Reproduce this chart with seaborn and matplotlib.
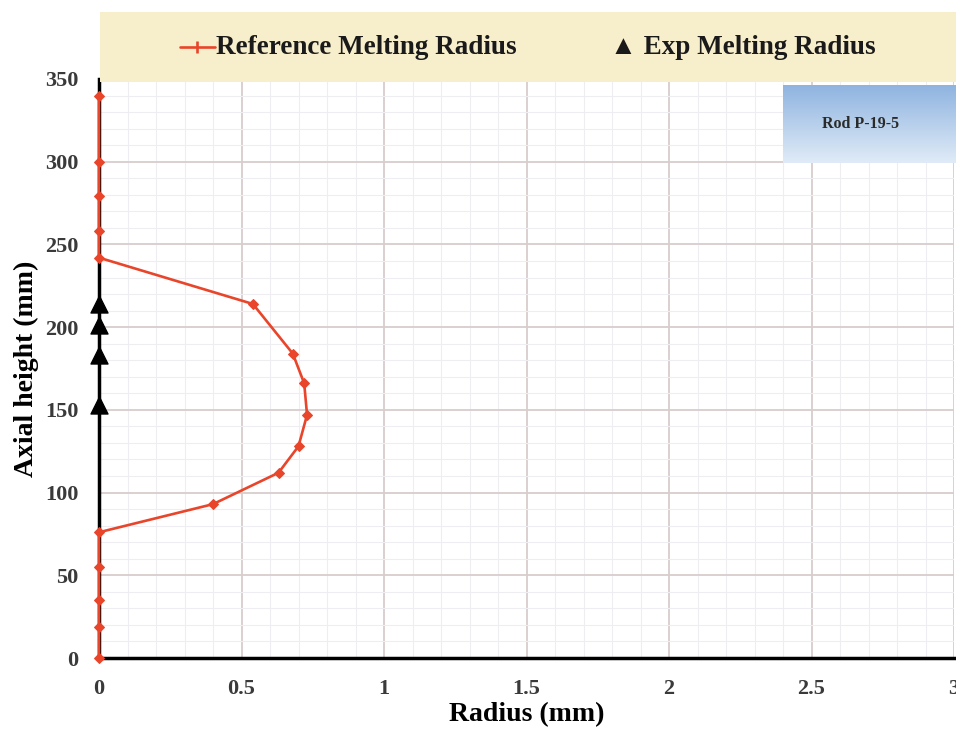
import numpy as np
import pandas as pd
import matplotlib
matplotlib.use("Agg")
import matplotlib.pyplot as plt
from matplotlib.ticker import MultipleLocator
from matplotlib.colors import LinearSegmentedColormap
import seaborn as sns

# ---- data ----
ref_radius = [0, 0, 0, 0, 0, 0.40, 0.63, 0.70, 0.73, 0.72, 0.68, 0.54, 0, 0, 0, 0, 0]
ref_height = [0, 19, 35, 55, 76, 93, 112, 128, 147, 166, 184, 214, 242, 258, 279, 300, 340]
exp_radius = [0, 0, 0, 0]
exp_height = [153, 183, 201, 214]
x_ticks = [0, 0.5, 1, 1.5, 2, 2.5, 3]
x_tick_labels = ["0", "0.5", "1", "1.5", "2", "2.5", "3"]
y_ticks = [0, 50, 100, 150, 200, 250, 300, 350]

ref_df = pd.DataFrame({"Radius": ref_radius, "Height": ref_height})
exp_df = pd.DataFrame({"Radius": exp_radius, "Height": exp_height})

sns.set_theme(style="white")
plt.rcParams["font.family"] = ["Liberation Serif", "DejaVu Serif"]

W, H = 956, 737
fig = plt.figure(figsize=(W / 100, H / 100), dpi=100)
ax = fig.add_axes([99 / W, 1 - 658 / H, (954 - 99) / W, (658 - 79) / H])

# legend band
fig.patches.append(plt.Rectangle((100 / W, 1 - 82 / H), (W - 100) / W, 70 / H,
                                 transform=fig.transFigure, facecolor="#f7eecb",
                                 edgecolor="none", zorder=0))

red = "#e8452b"
sns.lineplot(data=ref_df, x="Radius", y="Height", sort=False, ax=ax, color=red,
             linewidth=1.9, marker="D", markersize=5, markeredgecolor=red,
             zorder=4, clip_on=False, estimator=None)
sns.scatterplot(data=exp_df, x="Radius", y="Height", ax=ax, color="black",
                marker="^", s=150, edgecolor="black", zorder=5, clip_on=False)

ax.set_xlim(0, 3)
ax.set_ylim(0, 350)
ax.set_xticks(x_ticks)
ax.set_xticklabels(x_tick_labels)
ax.set_yticks(y_ticks)
ax.xaxis.set_minor_locator(MultipleLocator(0.1))
ax.yaxis.set_minor_locator(MultipleLocator(10))
ax.grid(True, which="major", color="#d8cdcd", linewidth=1.3)
ax.grid(True, which="minor", color="#eeedf2", linewidth=0.8)
ax.set_axisbelow(True)
ax.tick_params(which="minor", length=0)
ax.tick_params(which="major", length=6, width=1.6, color="black", pad=9,
               labelsize=16, labelcolor="#3a3a3a", direction="out")
for lab in ax.get_xticklabels() + ax.get_yticklabels():
    lab.set_fontweight("bold")
for side in ["top", "right"]:
    ax.spines[side].set_visible(False)
for side in ["left", "bottom"]:
    ax.spines[side].set_color("black")
    ax.spines[side].set_linewidth(2.5)
    ax.spines[side].set_zorder(3)

ax.set_xlabel("Radius (mm)", fontsize=20, fontweight="bold", color="black", labelpad=2)
ax.set_ylabel("Axial height (mm)", fontsize=20, fontweight="bold", color="black", labelpad=4)

# Rod label box with gradient
grad = np.linspace(0, 1, 100).reshape(-1, 1)
cmap = LinearSegmentedColormap.from_list("g", ["#8fb4e0", "#e0ebf7"])
ax_box = fig.add_axes([783 / W, 1 - 163 / H, (W - 783) / W, (163 - 85) / H])
ax_box.imshow(grad, aspect="auto", cmap=cmap, extent=[0, 1, 0, 1], origin="upper")
ax_box.set_axis_off()
ax_box.text(0.45, 0.5, "Rod P-19-5", ha="center", va="center", fontsize=11.5,
            fontweight="bold", color="#2a2a2a", transform=ax_box.transAxes)

# legend text
ly = 1 - 47 / H
fig.add_artist(plt.Line2D([180 / W, 215 / W], [ly, ly], color=red, linewidth=1.9,
                          transform=fig.transFigure))
fig.add_artist(plt.Line2D([197 / W], [ly], color=red, marker="|", markersize=8,
                          markeredgewidth=1.9, transform=fig.transFigure))
fig.text(216 / W, ly, "Reference Melting Radius", fontsize=19.5, fontweight="bold",
         va="center", ha="left", color="#1a1a1a")
fig.text(610 / W, ly, "\u25B2 Exp Melting Radius", fontsize=19.5, fontweight="bold",
         va="center", ha="left", color="#1a1a1a", family=["Liberation Serif", "DejaVu Sans"])

fig.savefig("out.png", dpi=100)
